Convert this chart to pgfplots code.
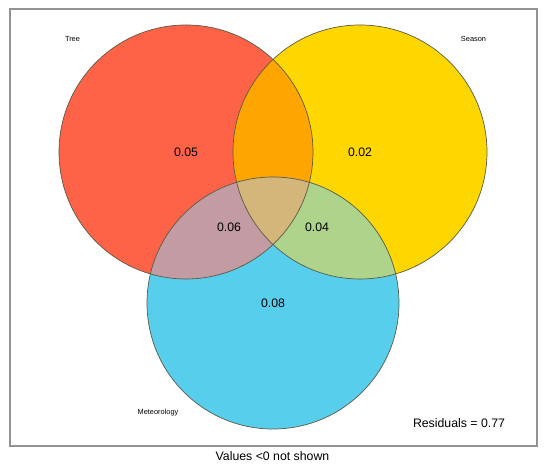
\documentclass[border=0pt]{standalone}
\usepackage{pgfplots}
\pgfplotsset{compat=1.18}
\usepackage{pgfplotstable}
\usepackage{fontspec}
\setmainfont{Liberation Sans}
\definecolor{cTree}{HTML}{FF6347}
\definecolor{cSeason}{HTML}{FFD700}
\definecolor{cMet}{HTML}{57CFEC}
\definecolor{cTS}{HTML}{FFA500}
\definecolor{cTM}{HTML}{C29BA3}
\definecolor{cSM}{HTML}{AED38B}
\definecolor{cTSM}{HTML}{D4B57A}
\definecolor{cEdge}{HTML}{5A5A48}
\pgfplotstableread{
x y label
186 320 0.05
360 320 0.02
229 245 0.06
317 245 0.04
273 169 0.08
}\values
\def\TX{186}\def\TY{320}\def\TR{127}
\def\SX{360}\def\SY{320}\def\SR{127}
\def\MX{273}\def\MY{169}\def\MR{126}
\begin{document}
\begin{tikzpicture}
\begin{axis}[
  scale only axis, width=11cm, height=9.44cm,
  xmin=0, xmax=550, ymin=0, ymax=472,
  hide axis, clip=false,
]
\path (axis cs:0,0) rectangle (axis cs:550,472);
% frame
\draw[color=gray!85, line width=0.8pt] (axis cs:10,26) rectangle (axis cs:537,463);
% circles
\fill[cTree] (axis cs:\TX,\TY) circle[radius=\TR];
\fill[cSeason] (axis cs:\SX,\SY) circle[radius=\SR];
\fill[cMet] (axis cs:\MX,\MY) circle[radius=\MR];
\begin{scope}
  \clip (axis cs:\TX,\TY) circle[radius=\TR];
  \fill[cTS] (axis cs:\SX,\SY) circle[radius=\SR];
  \fill[cTM] (axis cs:\MX,\MY) circle[radius=\MR];
\end{scope}
\begin{scope}
  \clip (axis cs:\SX,\SY) circle[radius=\SR];
  \fill[cSM] (axis cs:\MX,\MY) circle[radius=\MR];
\end{scope}
\begin{scope}
  \clip (axis cs:\TX,\TY) circle[radius=\TR];
  \clip (axis cs:\SX,\SY) circle[radius=\SR];
  \fill[cTSM] (axis cs:\MX,\MY) circle[radius=\MR];
\end{scope}
\draw[cEdge, line width=0.4pt] (axis cs:\TX,\TY) circle[radius=\TR];
\draw[cEdge, line width=0.4pt] (axis cs:\SX,\SY) circle[radius=\SR];
\draw[cEdge, line width=0.4pt] (axis cs:\MX,\MY) circle[radius=\MR];
% values
\addplot[only marks, mark=none, nodes near coords, point meta=explicit symbolic,
  every node near coord/.style={anchor=center, font=\fontsize{7}{8}\selectfont, text=black}]
  table[x=x, y=y, meta=label]{\values};
% labels
\node[font=\fontsize{4.2}{5}\selectfont] at (axis cs:72.5,433) {Tree};
\node[font=\fontsize{4.2}{5}\selectfont] at (axis cs:473.5,433) {Season};
\node[font=\fontsize{4.2}{5}\selectfont] at (axis cs:158,59) {Meteorology};
\node[font=\fontsize{7}{8}\selectfont] at (axis cs:459,49) {Residuals = 0.77};
\node[font=\fontsize{7}{8}\selectfont] at (axis cs:272.5,16) {Values <0 not shown};
\end{axis}
\end{tikzpicture}
\end{document}
